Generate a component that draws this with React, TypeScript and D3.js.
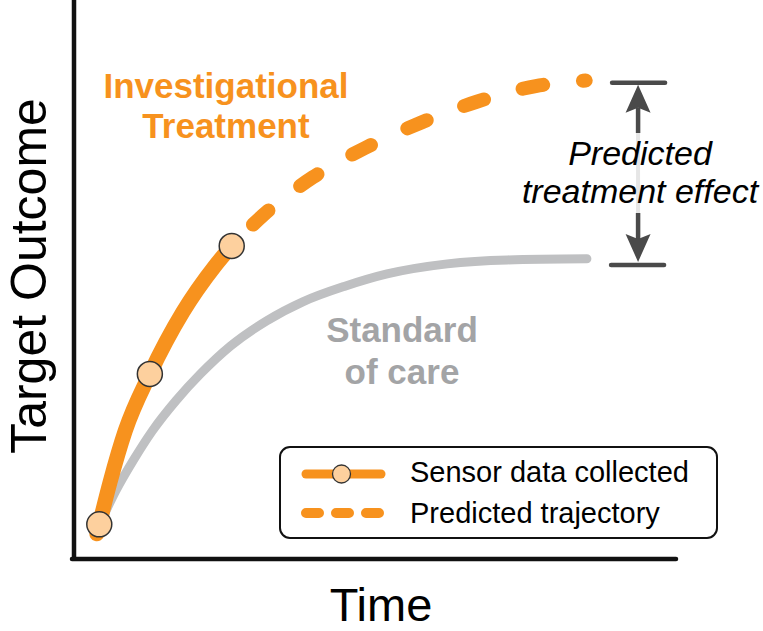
import React from "react";
import * as d3 from "d3";

// ---- data (abstract units: time 0-100, outcome 0-100) ----
const solidTime = [3.8, 4.2, 6.0, 8.5, 12.6, 18.1, 23.4, 26.2];
const solidValue = [4.5, 6.2, 13.8, 22.9, 33.1, 44.2, 52.4, 56.0];

const predTime = [26.2, 31.4, 39.7, 48.3, 57.5, 66.9, 76.7, 85.0];
const predValue = [56.0, 61.5, 68.3, 73.5, 78.0, 81.8, 84.6, 85.6];

const socTime = [4.3, 7.0, 10.0, 13.0, 17.0, 21.0, 26.0, 32.0, 38.0, 45.0, 52.0, 62.0, 72.0, 85.2];
const socValue = [6.3, 12.3, 17.9, 22.9, 28.4, 33.1, 38.1, 42.6, 46.0, 48.8, 51.0, 52.8, 53.5, 53.7];

const sensorTime = [4.2, 12.6, 26.2];
const sensorValue = [6.2, 33.1, 56.0];

const effectTime = 93.7;
const effectTop = 85.2;
const effectBottom = 52.6;

const legendLabels = ["Sensor data collected", "Predicted trajectory"];
const seriesLabels = ["Investigational", "Treatment"];
const socLabels = ["Standard", "of care"];
const effectLabels = ["Predicted", "treatment effect"];
const xTitle = "Time";
const yTitle = "Target Outcome";

const W = 763;
const H = 631;
const ORANGE = "#F7921E";
const PEACH = "#FDD09E";
const GRAY = "#BFC0C2";
const GRAY_TEXT = "#A3A4A6";
const DARK = "#4A4A4A";
const FONT = "'Liberation Sans', Arial, Helvetica, sans-serif";

export default function App() {
  const x = d3.scaleLinear().domain([0, 100]).range([74, 676]);
  const y = d3.scaleLinear().domain([0, 100]).range([559, 0]);

  const line = d3
    .line<[number, number]>()
    .x((d) => x(d[0]))
    .y((d) => y(d[1]))
    .curve(d3.curveMonotoneX);

  const solid = solidTime.map((t, i) => [t, solidValue[i]] as [number, number]);
  const pred = predTime.map((t, i) => [t, predValue[i]] as [number, number]);
  const soc = socTime.map((t, i) => [t, socValue[i]] as [number, number]);

  const ax = x(effectTime);
  const yT = y(effectTop);
  const yB = y(effectBottom);

  // legend geometry
  const lgX = 280, lgY = 447, lgW = 437, lgH = 91;
  const row1 = 474, row2 = 513;
  const lineX0 = 306, lineX1 = 381;

  return (
    <svg
      width={W}
      height={H}
      style={{ position: "absolute", left: 0, top: 0, display: "block", background: "#fff" }}
      fontFamily={FONT}
    >
      {/* axes */}
      <line x1={x(0)} y1={-2} x2={x(0)} y2={y(0) + 2} stroke="#111" strokeWidth={4.5} />
      <line x1={x(0) - 2} y1={y(0)} x2={x(100)} y2={y(0)} stroke="#111" strokeWidth={4.5} strokeLinecap="round" />

      {/* axis titles */}
      <text x={381} y={621} textAnchor="middle" fontSize={47} fill="#000">
        {xTitle}
      </text>
      <text
        transform={`translate(46,276) rotate(-90)`}
        textAnchor="middle"
        fontSize={50}
        fill="#000"
      >
        {yTitle}
      </text>

      {/* standard of care */}
      <path d={line(soc) || ""} fill="none" stroke={GRAY} strokeWidth={9} strokeLinecap="round" />

      {/* predicted trajectory (dashed) */}
      <path
        d={line(pred) || ""}
        fill="none"
        stroke={ORANGE}
        strokeWidth={14}
        strokeLinecap="round"
        strokeDasharray="21 40"
        strokeDashoffset={31}
      />

      {/* sensor data (solid) */}
      <path d={line(solid) || ""} fill="none" stroke={ORANGE} strokeWidth={15} strokeLinecap="round" />

      {sensorTime.map((t, i) => (
        <circle key={i} cx={x(t)} cy={y(sensorValue[i])} r={12.5} fill={PEACH} stroke="#333" strokeWidth={1.5} />
      ))}

      {/* series labels */}
      {seriesLabels.map((s, i) => (
        <text key={s} x={226} y={98 + i * 40} textAnchor="middle" fontSize={35} fontWeight="bold" fill={ORANGE}>
          {s}
        </text>
      ))}
      {socLabels.map((s, i) => (
        <text key={s} x={402} y={342 + i * 42} textAnchor="middle" fontSize={35} fontWeight="bold" fill={GRAY_TEXT}>
          {s}
        </text>
      ))}

      {/* treatment effect arrow */}
      <line x1={ax} y1={yT + 25} x2={ax} y2={yB - 25} stroke="#e6e6e6" strokeWidth={4} />
      <line x1={ax} y1={yT + 25} x2={ax} y2={133} stroke={DARK} strokeWidth={4.5} />
      <line x1={ax} y1={213} x2={ax} y2={yB - 25} stroke={DARK} strokeWidth={4.5} />
      <path
        d={`M${ax},${yT + 2} L${ax + 12.5},${yT + 30} L${ax},${yT + 25} L${ax - 12.5},${yT + 30} Z`}
        fill={DARK}
      />
      <path
        d={`M${ax},${yB - 3} L${ax + 12.5},${yB - 31} L${ax},${yB - 26} L${ax - 12.5},${yB - 31} Z`}
        fill={DARK}
      />
      <line x1={ax - 26} y1={yT} x2={ax + 27} y2={yT} stroke={DARK} strokeWidth={4.5} strokeLinecap="round" />
      <line x1={ax - 27} y1={yB} x2={ax + 26} y2={yB} stroke={DARK} strokeWidth={4.5} strokeLinecap="round" />

      {effectLabels.map((s, i) => (
        <text key={s} x={640} y={165 + i * 38} textAnchor="middle" fontSize={34} fontStyle="italic" fill="#000">
          {s}
        </text>
      ))}

      {/* legend */}
      <rect x={lgX} y={lgY} width={lgW} height={lgH} rx={10} ry={10} fill="#fff" stroke="#111" strokeWidth={2} />
      <line x1={lineX0} y1={row1} x2={lineX1} y2={row1} stroke={ORANGE} strokeWidth={9} strokeLinecap="round" />
      <circle cx={(lineX0 + lineX1) / 2 - 2} cy={row1} r={9} fill={PEACH} stroke="#333" strokeWidth={1.3} />
      <line
        x1={lineX0}
        y1={row2}
        x2={lineX1}
        y2={row2}
        stroke={ORANGE}
        strokeWidth={10}
        strokeLinecap="round"
        strokeDasharray="13 17"
      />
      {legendLabels.map((s, i) => (
        <text key={s} x={410} y={482 + i * 41} fontSize={29} fill="#000">
          {s}
        </text>
      ))}
    </svg>
  );
}
